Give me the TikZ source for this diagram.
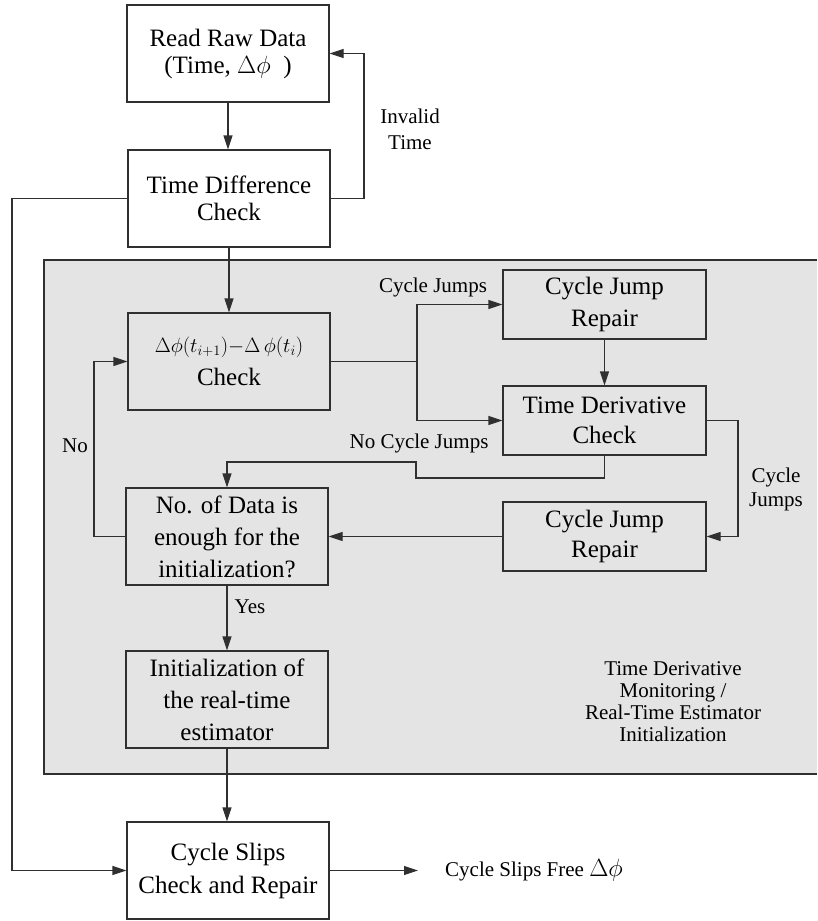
\documentclass[tikz,border=0pt]{standalone}
\usepackage{fontspec}
\setmainfont{Liberation Serif}
\usetikzlibrary{arrows.meta}
\definecolor{regionfill}{HTML}{E4E4E4}
\definecolor{linec}{HTML}{303030}
\begin{document}
\begin{tikzpicture}[x=1pt,y=-1pt,
  box/.style={draw=linec, line width=1.1pt, minimum width=202pt, minimum height=97pt,
    align=center, inner sep=0pt, font=\fontsize{25}{28}\selectfont},
  sbox/.style={box, minimum width=203pt, minimum height=69pt, fill=regionfill,
    font=\fontsize{25}{30}\selectfont},
  gbox/.style={box, fill=regionfill},
  wbox/.style={box, fill=white},
  conn/.style={draw=linec, line width=1.1pt},
  arr/.style={conn, -{Triangle[length=14pt,width=9pt]}},
  lbl/.style={align=center, inner sep=0pt, font=\fontsize{21}{25}\selectfont}]
\useasboundingbox (0,0) rectangle (817,921);
\fill[white] (0,0) rectangle (817,921);
% shaded region
\fill[regionfill] (44,260) rectangle (817,774);
\draw[linec, line width=1.1pt] (817,260) -- (44,260) -- (44,774) -- (817,774);

% boxes
\node[wbox, font=\fontsize{25}{27}\selectfont] (read) at (228,53.5) {Read Raw Data\\(Time, $\Delta\phi$~~)};
\node[wbox, font=\fontsize{25}{27}\selectfont] (tdc) at (229,198.5) {Time Difference\\Check};
\node[gbox, font=\fontsize{25}{33}\selectfont] (chk) at (229,361.5) {{\fontsize{20}{22}\selectfont$\Delta\phi(t_{i+1}){-}\Delta\,\phi(t_i)$}\\Check};
\node[sbox, font=\fontsize{25}{32}\selectfont] (cjr1) at (604.5,304.5) {Cycle Jump\\Repair};
\node[sbox] (tder) at (604.5,420.5) {Time Derivative\\Check};
\node[sbox] (cjr2) at (604.5,536.5) {Cycle Jump\\Repair};
\node[gbox, font=\fontsize{25}{32}\selectfont] (nod) at (227,536.5) {No. of Data is\\enough for the\\initialization?};
\node[gbox, font=\fontsize{25}{32}\selectfont] (init) at (227,699.5) {Initialization of\\the real-time\\estimator};
\node[wbox, font=\fontsize{25}{33}\selectfont] (csr) at (228,870.5) {Cycle Slips\\Check and Repair};

% helper coordinates
\coordinate (invx) at (364,0);
\coordinate (leftx) at (12,0);
\coordinate (split) at (417,361.5);
\coordinate (cjx) at (738,0);
\coordinate (njA) at (604.5,478);
\coordinate (njB) at (416,478);
\coordinate (njC) at (416,462);
\coordinate (njD) at (227,462);
\coordinate (nox) at (94,0);
\coordinate (outend) at (418,870.5);

% connectors
\draw[arr] (read.south) -- (read.south |- tdc.north);
\draw[arr] (tdc.east) -- (tdc.east -| invx) -- (read.east -| invx) -- (read.east);
\draw[arr] (tdc.west) -- (tdc.west -| leftx) -- (csr.west -| leftx) -- (csr.west);
\draw[arr] (tdc.south -| chk.north) -- (chk.north);
\draw[conn] (chk.east) -- (split);
\draw[arr] (split) |- (cjr1.west);
\draw[arr] (split) |- (tder.west);
\draw[arr] (cjr1.south) -- (tder.north);
\draw[arr] (tder.east) -- (tder.east -| cjx) -- (cjr2.east -| cjx) -- (cjr2.east);
\draw[arr] (tder.south) -- (njA) -- (njB) -- (njC) -- (njD) -- (nod.north);
\draw[arr] (cjr2.west) -- (nod.east);
\draw[arr] (nod.west) -- (nod.west -| nox) -- (chk.west -| nox) -- (chk.west);
\draw[arr] (nod.south) -- (init.north);
\draw[arr] (init.south) -- (init.south |- csr.north);
\draw[arr] (csr.east) -- (outend);

% labels
\node[lbl, font=\fontsize{21}{26}\selectfont] (linv) at (410,129) {Invalid\\Time};
\node[lbl] (lcj1) at (433,287) {Cycle Jumps};
\node[lbl] (lncj) at (419,443) {No Cycle Jumps};
\node[lbl, font=\fontsize{21}{24}\selectfont] (lcj2) at (776,489) {Cycle\\Jumps};
\node[lbl] (lno) at (75,446) {No};
\node[lbl] (lyes) at (250,607) {Yes};
\node[lbl, font=\fontsize{21}{22}\selectfont] (lreg) at (673,702) {Time Derivative\\Monitoring /\\Real-Time Estimator\\Initialization};
\node[lbl, anchor=west] (lout) at (445,870.5) {Cycle Slips Free {\fontsize{27}{27}\selectfont$\Delta\phi$}};
\end{tikzpicture}
\end{document}
